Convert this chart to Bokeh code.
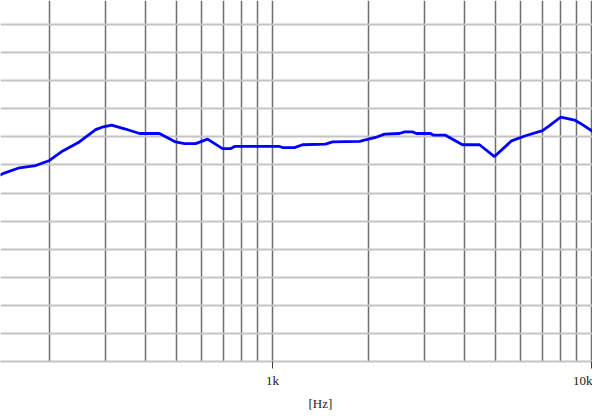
from bokeh.plotting import figure
from bokeh.models import FixedTicker, Range1d, Title
from bokeh.embed import file_html
from bokeh.resources import INLINE

# Frequency response
freq_hz = [132, 145, 161, 181, 200, 220, 248, 279, 295, 313, 346, 383, 442,
           497, 530, 574, 626, 697, 738, 760, 1052, 1075, 1172, 1242, 1466,
           1542, 1874, 2000, 2103, 2244, 2501, 2593, 2747, 2828, 3128, 3198,
           3486, 3940, 4456, 4965, 5615, 6210, 7022, 7385, 7995, 8349, 8844,
           9237, 10072]
level_db = [67.6, 68.6, 69.5, 69.9, 70.8, 72.5, 74.1, 76.3, 76.8, 77.1, 76.4,
            75.6, 75.6, 74.1, 73.8, 73.8, 74.6, 72.9, 72.9, 73.3, 73.3, 73.1,
            73.1, 73.6, 73.7, 74.1, 74.2, 74.6, 74.9, 75.5, 75.6, 75.9, 75.9,
            75.6, 75.6, 75.3, 75.3, 73.6, 73.6, 71.5, 74.3, 75.2, 76.1, 77.0,
            78.5, 78.3, 78.0, 77.4, 76.0]

grid_freqs = [200, 300, 400, 500, 600, 700, 800, 900, 1000,
              2000, 3000, 4000, 5000, 6000, 7000, 8000, 9000, 10000]
tick_freqs = [1000, 10000]
tick_labels = {1000: "1k", 10000: "10k"}
grid_levels = [35, 40, 45, 50, 55, 60, 65, 70, 75, 80, 85, 90, 95]
unit_label = "[Hz]"

p = figure(frame_width=592, frame_height=361, x_axis_type="log",
           x_range=Range1d(140.4, 10072), y_range=Range1d(35, 99.29),
           output_backend="svg", toolbar_location=None,
           min_border_left=0, min_border_right=0, min_border_top=0,
           min_border_bottom=50)
p.outline_line_color = None
p.background_fill_color = "white"
p.border_fill_color = "white"

p.xgrid.ticker = FixedTicker(ticks=grid_freqs)
p.xgrid.grid_line_color = "#6e6e6e"
p.xgrid.grid_line_width = 1.5
p.xgrid.minor_grid_line_color = None

p.yaxis.visible = False
p.ygrid.ticker = FixedTicker(ticks=grid_levels)
p.ygrid.grid_line_color = "#c4c4c4"
p.ygrid.grid_line_width = 2

ax = p.xaxis[0]
ax.ticker = FixedTicker(ticks=tick_freqs)
ax.major_label_overrides = tick_labels
ax.axis_line_color = "#c4c4c4"
ax.axis_line_width = 2
ax.major_tick_line_color = "#404040"
ax.major_tick_in = 0
ax.major_tick_out = 7
ax.minor_tick_line_color = None
ax.major_label_standoff = 4
ax.major_label_text_font = "Liberation Serif"
ax.major_label_text_font_size = "13px"
ax.major_label_text_color = "#202020"

p.line(freq_hz, level_db, line_color="#0000ff", line_width=2.8)

p.add_layout(Title(text=unit_label, align="left", offset=308, standoff=6,
                   text_font="Liberation Serif", text_font_size="13px",
                   text_font_style="normal", text_color="#202020"), "below")

open("out.html", "w").write(file_html(p, INLINE))
